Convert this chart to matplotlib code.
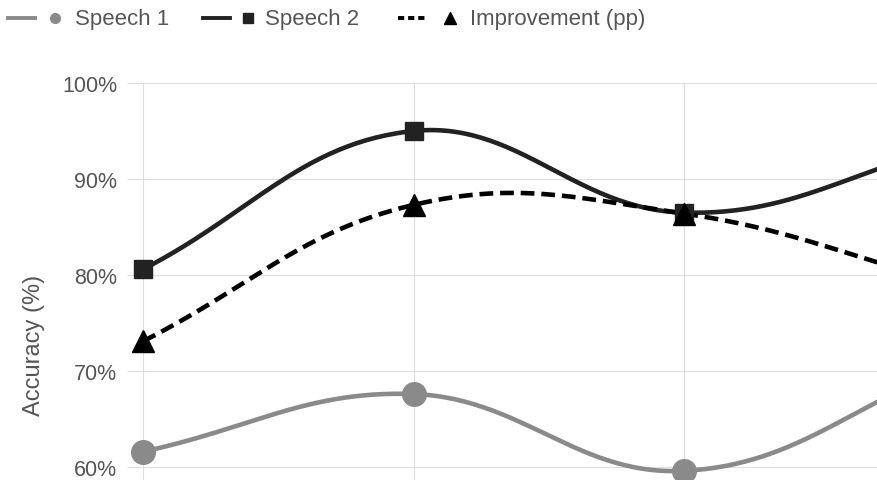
import numpy as np
import matplotlib
matplotlib.use("Agg")
import matplotlib.pyplot as plt
from matplotlib.lines import Line2D
from matplotlib.ticker import FuncFormatter

plt.rcParams['font.family'] = ['Liberation Sans', 'DejaVu Sans']

# data (4th point sits past the right edge of the visible area)
positions = [0, 1, 2, 3]
speech1 = [61.6, 67.6, 59.6, 70.5]
speech2 = [80.6, 95.0, 86.5, 93.5]
improvement = [73.1, 87.3, 86.4, 79.0]
y_ticks = [60, 70, 80, 90, 100]

names = ['Speech 1', 'Speech 2', 'Improvement (pp)']
colors = ['#8a8a8a', '#222222', '#000000']
markers = ['o', 's', '^']


def spline(xs, ys, sx, sy, tension=0.4, n=60):
    # chart.js style bezier smoothing, distances measured in pixel units
    px = np.array(xs, float) * sx
    py = np.array(ys, float) * sy
    m = len(px)
    cin, cout = [], []
    for i in range(m):
        p0 = (px[max(i - 1, 0)], py[max(i - 1, 0)])
        p1 = (px[i], py[i])
        p2 = (px[min(i + 1, m - 1)], py[min(i + 1, m - 1)])
        d01 = np.hypot(p1[0] - p0[0], p1[1] - p0[1])
        d12 = np.hypot(p2[0] - p1[0], p2[1] - p1[1])
        tot = d01 + d12
        s01 = d01 / tot if tot else 0
        s12 = d12 / tot if tot else 0
        fa, fb = tension * s01, tension * s12
        cin.append((p1[0] - fa * (p2[0] - p0[0]), p1[1] - fa * (p2[1] - p0[1])))
        cout.append((p1[0] + fb * (p2[0] - p0[0]), p1[1] + fb * (p2[1] - p0[1])))
    t = np.linspace(0, 1, n)[:, None]
    segs = []
    for i in range(m - 1):
        a = np.array([px[i], py[i]])
        b = np.array(cout[i])
        c = np.array(cin[i + 1])
        d = np.array([px[i + 1], py[i + 1]])
        segs.append((1 - t) ** 3 * a + 3 * (1 - t) ** 2 * t * b + 3 * (1 - t) * t ** 2 * c + t ** 3 * d)
    pts = np.vstack(segs)
    return pts[:, 0] / sx, pts[:, 1] / sy


fig = plt.figure(figsize=(8.77, 4.81), dpi=100)
ax = fig.add_axes([143 / 877, 0, 1 - 143 / 877, 1 - 84 / 481])

sx, sy = 270.5, 9.6
series = [speech1, speech2, improvement]
styles = ['-', '-', (0, (3, 1.5))]
sizes = [17, 13, 16]
for vals, c, mk, ls, ms in zip(series, colors, markers, styles, sizes):
    cx, cy = spline(positions, vals, sx, sy)
    ax.plot(cx, cy, color=c, lw=3.3, ls=ls, zorder=3)
    ax.plot(positions, vals, ls='none', marker=mk, ms=ms, color=c, zorder=4, clip_on=False)

ax.set_yticks(y_ticks)
ax.yaxis.set_major_formatter(FuncFormatter(lambda v, p: f'{v:.0f}%'))
ax.set_xticks(positions)
ax.set_xticklabels([])
ax.set_xlim(0, (877 - 143) / sx)
ax.set_ylim(60 - 13 / sy, 100)
ax.tick_params(axis='y', length=11.5, width=0.8, color='#dddddd', pad=7,
               labelsize=15.5, labelcolor='#555555')
ax.tick_params(axis='x', length=0)
ax.grid(True, color='#dddddd', lw=0.8)
ax.set_axisbelow(True)
for s in ax.spines.values():
    s.set_visible(False)

fig.text(34 / 877, 1 - 345 / 481, 'Accuracy (%)', rotation=90, ha='center', va='center',
         fontsize=17, color='#555555')

# legend drawn by hand to match line + marker layout
leg_y = 1 - 19 / 481
items = [(8, 55, 75), (203, 248, 265), (398, 450, 470)]
leg_ls = ['-', '-', (0, (1.6, 1.0))]
leg_ms = [7, 7, 8]
for (x0, xm, xt), name, c, mk, ls, ms in zip(items, names, colors, markers, leg_ls, leg_ms):
    fig.add_artist(Line2D([x0 / 877, (x0 + 27) / 877], [leg_y, leg_y], color=c, lw=2.8, ls=ls))
    fig.add_artist(Line2D([xm / 877], [leg_y], marker=mk, ms=ms, color=c, ls='none'))
    fig.text(xt / 877, leg_y, name, ha='left', va='center', fontsize=16, color='#555555')

fig.savefig('out.png', dpi=100)
